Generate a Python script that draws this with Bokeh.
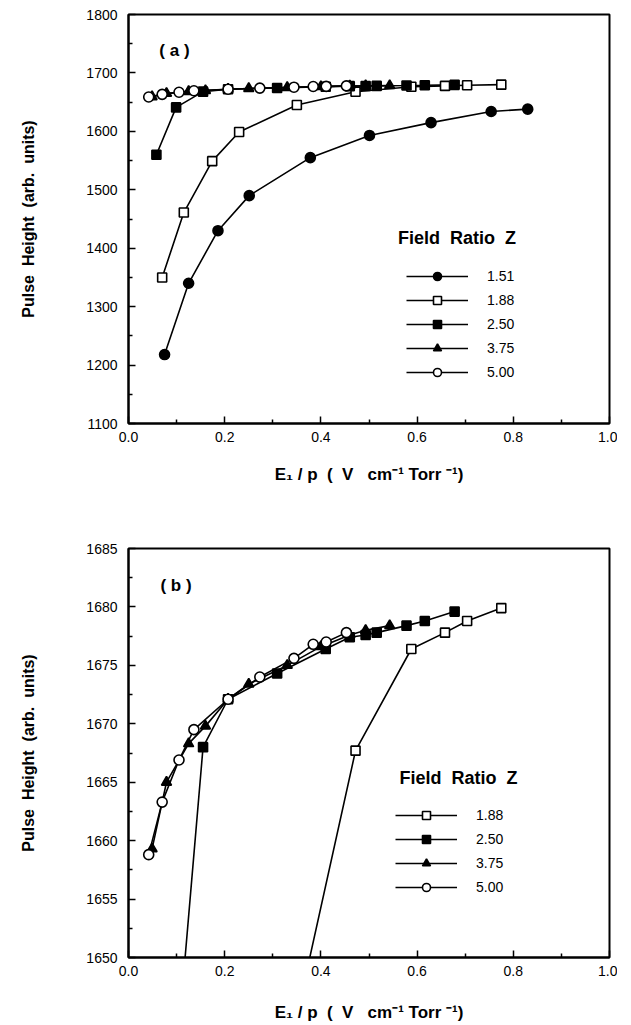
from bokeh.plotting import figure
from bokeh.layouts import column
from bokeh.models import Legend, LegendItem, Label, FixedTicker, Range1d, NumeralTickFormatter
from bokeh.embed import file_html
from bokeh.resources import INLINE

# ---------------- data ----------------
series_labels = ["1.51", "1.88", "2.50", "3.75", "5.00"]

x_151 = [0.075, 0.125, 0.186, 0.251, 0.378, 0.501, 0.629, 0.754, 0.830]
y_151 = [1218, 1340, 1430, 1490, 1555, 1593, 1615, 1634, 1638]

x_188 = [0.070, 0.115, 0.174, 0.230, 0.350, 0.472, 0.588, 0.658, 0.704, 0.775]
y_188 = [1350, 1461, 1549, 1599, 1645, 1667.7, 1676.4, 1677.8, 1678.8, 1679.9]

x_250 = [0.058, 0.099, 0.155, 0.207, 0.309, 0.410, 0.460, 0.493, 0.516, 0.578, 0.616, 0.678]
y_250 = [1560, 1641, 1668.0, 1672.1, 1674.3, 1676.4, 1677.4, 1677.6, 1677.8, 1678.4, 1678.8, 1679.6]

x_375 = [0.049, 0.079, 0.125, 0.160, 0.207, 0.250, 0.330, 0.400, 0.460, 0.493, 0.543]
y_375 = [1659.3, 1665.0, 1668.3, 1669.8, 1672.1, 1673.4, 1675.0, 1676.6, 1677.6, 1678.0, 1678.4]

x_500 = [0.042, 0.070, 0.105, 0.136, 0.207, 0.273, 0.344, 0.384, 0.411, 0.453]
y_500 = [1658.8, 1663.3, 1666.9, 1669.5, 1672.1, 1674.0, 1675.6, 1676.8, 1677.0, 1677.8]

x_ticks = [0.0, 0.2, 0.4, 0.6, 0.8, 1.0]
x_minor = [0.1, 0.3, 0.5, 0.7, 0.9]
y_ticks_a = [1100, 1200, 1300, 1400, 1500, 1600, 1700, 1800]
y_minor_a = [1150, 1250, 1350, 1450, 1550, 1650, 1750]
y_ticks_b = [1650, 1655, 1660, 1665, 1670, 1675, 1680, 1685]
y_minor_b = [1652.5, 1657.5, 1662.5, 1667.5, 1672.5, 1677.5, 1682.5]

FONT = "Liberation Sans"
S = "\u00a0"
X_TITLE = "E\u2081 / p " + S + "(" + S + " V" + S * 3 + "cm\u207b\u00b9 Torr" + S + "\u207b\u00b9)"
Y_TITLE = "Pulse" + S + " Height" + S + " (arb." + S + " units)"
LEG_TITLE = "Field" + S + " Ratio" + S + " Z"

styles = {
    "1.51": dict(marker="circle", size=10, fill_color="black"),
    "1.88": dict(marker="square", size=9, fill_color="white"),
    "2.50": dict(marker="square", size=9, fill_color="black"),
    "3.75": dict(marker="triangle", size=10, fill_color="black"),
    "5.00": dict(marker="circle", size=10, fill_color="white"),
}
data = {
    "1.51": (x_151, y_151),
    "1.88": (x_188, y_188),
    "2.50": (x_250, y_250),
    "3.75": (x_375, y_375),
    "5.00": (x_500, y_500),
}


def make_panel(yr, yt, ym, keys, tag, tag_xy, title_xy, legend_loc, top, bottom, xlab_standoff):
    p = figure(output_backend="svg", toolbar_location=None,
               frame_width=481, frame_height=409,
               min_border_left=128, min_border_right=8,
               min_border_top=top, min_border_bottom=bottom,
               x_range=Range1d(0, 1), y_range=yr)
    p.xgrid.visible = False
    p.ygrid.visible = False
    p.outline_line_color = "black"
    p.outline_line_width = 2
    p.background_fill_color = "white"
    p.border_fill_color = "white"

    for ax in (p.xaxis[0], p.yaxis[0]):
        ax.axis_line_width = 2
        ax.major_tick_in = 7
        ax.major_tick_out = 0
        ax.minor_tick_in = 4
        ax.minor_tick_out = 0
        ax.major_tick_line_width = 1.5
        ax.minor_tick_line_width = 1.5
        ax.major_label_text_font = FONT
        ax.major_label_text_font_size = "14px"
        ax.major_label_text_color = "black"
        ax.axis_label_text_font = FONT
        ax.axis_label_text_font_style = "bold"
        ax.axis_label_text_color = "black"

    p.xaxis.ticker = FixedTicker(ticks=x_ticks, minor_ticks=x_minor)
    p.xaxis.formatter = NumeralTickFormatter(format="0.0")
    p.xaxis.major_label_standoff = 8
    p.xaxis.axis_label = X_TITLE
    p.xaxis.axis_label_text_font_size = "17px"
    p.xaxis.axis_label_standoff = xlab_standoff

    p.yaxis.ticker = FixedTicker(ticks=yt, minor_ticks=ym)
    p.yaxis.formatter = NumeralTickFormatter(format="0")
    p.yaxis.major_label_standoff = 11
    p.yaxis.axis_label = Y_TITLE
    p.yaxis.axis_label_text_font_size = "16px"
    p.yaxis.axis_label_standoff = 46

    lines = {}
    for k in keys:
        xs, ys = data[k]
        lines[k] = p.line(xs, ys, line_color="black", line_width=1.6)
    items = []
    for k in keys:
        xs, ys = data[k]
        st = styles[k]
        r = p.scatter(xs, ys, marker=st["marker"], size=st["size"],
                      fill_color=st["fill_color"], line_color="black", line_width=1.6)
        items.append(LegendItem(label=k, renderers=[lines[k], r]))

    leg = Legend(items=items, location=legend_loc, padding=0, margin=0,
                 border_line_alpha=0, background_fill_alpha=0,
                 glyph_width=62, glyph_height=20, label_height=20, spacing=4,
                 label_standoff=19, label_text_font=FONT, label_text_font_size="14px",
                 label_text_color="black")
    p.add_layout(leg)

    p.add_layout(Label(x=title_xy[0], y=title_xy[1], text=LEG_TITLE,
                       text_font=FONT, text_font_style="bold", text_font_size="18px",
                       text_align="center", text_baseline="middle", text_color="black"))
    p.add_layout(Label(x=tag_xy[0], y=tag_xy[1], text=tag,
                       text_font=FONT, text_font_style="bold", text_font_size="17px",
                       text_align="center", text_baseline="middle", text_color="black"))
    return p


pa = make_panel(Range1d(1100, 1800), y_ticks_a, y_minor_a, series_labels,
                "(" + S + "a" + S + ")", (0.0955, 1738), (0.683, 1417), (278, 41), 14, 72, 20)
pb = make_panel(Range1d(1650, 1685), y_ticks_b, y_minor_b, series_labels[1:],
                "(" + S + "b" + S + ")", (0.0987, 1681.8), (0.686, 1665.4), (267, 60), 53, 66, 24)

layout = column(pa, pb, spacing=0)
open("out.html", "w").write(file_html(layout, INLINE))
